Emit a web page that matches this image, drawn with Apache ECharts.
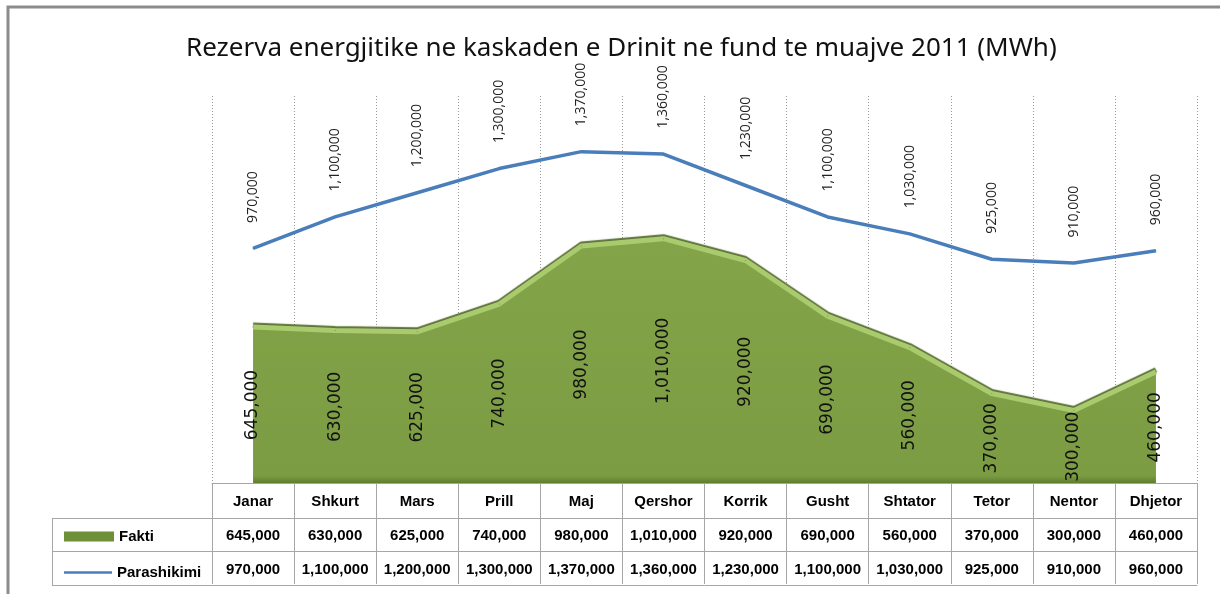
<!DOCTYPE html>
<html>
<head>
<meta charset="utf-8">
<script src="https://cdn.jsdelivr.net/npm/echarts@6/dist/echarts.min.js"></script>
<style>
  html, body { margin: 0; padding: 0; background: #fff; }
  #chart { width: 1220px; height: 594px; }
</style>
</head>
<body>
<div id="chart"></div>
<script>
var months = ['Janar', 'Shkurt', 'Mars', 'Prill', 'Maj', 'Qershor', 'Korrik', 'Gusht', 'Shtator', 'Tetor', 'Nentor', 'Dhjetor'];
var fakti = [645000, 630000, 625000, 740000, 980000, 1010000, 920000, 690000, 560000, 370000, 300000, 460000];
var parashikimi = [970000, 1100000, 1200000, 1300000, 1370000, 1360000, 1230000, 1100000, 1030000, 925000, 910000, 960000];

var narrow = "'Liberation Sans Narrow', 'Arial Narrow', 'Liberation Sans', sans-serif";
var cellLine = '#a6a6a6';

function fmt(v) {
    return v.toLocaleString('en-US');
}

var chart = echarts.init(document.getElementById('chart'));

// one category axis per table row, stacked under the plot
function tableAxis(offset, values, margin) {
    return {
        type: 'category',
        data: months,
        gridIndex: 0,
        position: 'bottom',
        offset: offset,
        boundaryGap: true,
        axisLine: { show: true, lineStyle: { color: cellLine, width: 1 } },
        axisTick: { show: !!values, interval: 0, length: 33, lineStyle: { color: cellLine } },
        axisLabel: {
            show: !!values,
            interval: 0,
            margin: margin,
            color: '#000',
            fontFamily: narrow,
            fontWeight: 'bold',
            fontSize: 15,
            formatter: function (v, i) { return values ? values[i] : v; }
        },
        splitLine: { show: false }
    };
}

var xMonths = tableAxis(0, months, 11);
xMonths.axisTick.length = 35;
xMonths.splitLine = { show: true, lineStyle: { color: '#9a9a9a', type: [1, 2], width: 1 } };

var legendText = { color: '#000', fontFamily: narrow, fontWeight: 'bold', fontSize: 15 };

var option = {
    animation: false,
    backgroundColor: '#fff',
    title: {
        text: 'Rezerva energjitike ne kaskaden e Drinit ne fund te muajve 2011 (MWh)',
        left: 181,
        top: 31,
        textStyle: { color: '#111', fontFamily: "'Noto Sans', sans-serif", fontWeight: 'normal', fontSize: 26 }
    },
    legend: [
        {
            data: [{ name: 'Fakti', icon: 'rect' }],
            left: 59, top: 524,
            itemWidth: 50, itemHeight: 10,
            textStyle: legendText
        },
        {
            data: [{ name: 'Parashikimi', icon: 'rect' }],
            left: 59, top: 560,
            itemWidth: 48, itemHeight: 2.5,
            textStyle: legendText
        }
    ],
    grid: { left: 212, right: 23, top: 96, bottom: 111 },
    xAxis: [
        xMonths,
        tableAxis(35, fakti.map(fmt), 10),
        tableAxis(68, parashikimi.map(fmt), 11),
        tableAxis(102, null, 0)
    ],
    yAxis: {
        type: 'value',
        min: 0,
        max: 1600000,
        show: false
    },
    graphic: [
        { type: 'rect', shape: { x: 8, y: 7, width: 1250, height: 640 }, style: { fill: 'none', stroke: '#8c8c8c', lineWidth: 3 }, silent: true },
        { type: 'line', shape: { x1: 52, y1: 518.5, x2: 212, y2: 518.5 }, style: { stroke: cellLine, lineWidth: 1 } },
        { type: 'line', shape: { x1: 52, y1: 551.5, x2: 212, y2: 551.5 }, style: { stroke: cellLine, lineWidth: 1 } },
        { type: 'line', shape: { x1: 52, y1: 585.5, x2: 212, y2: 585.5 }, style: { stroke: cellLine, lineWidth: 1 } },
        { type: 'line', shape: { x1: 52.5, y1: 518, x2: 52.5, y2: 586 }, style: { stroke: cellLine, lineWidth: 1 } }
    ],
    series: [
        {
            name: 'Fakti',
            type: 'line',
            data: fakti,
            xAxisIndex: 0,
            symbol: 'circle',
            symbolSize: 1,
            showSymbol: true,
            color: '#6f8f38',
            itemStyle: { color: '#6f8f38' },
            lineStyle: {
                color: '#a9cb6d',
                width: 5,
                shadowColor: 'rgba(75,100,35,0.9)',
                shadowBlur: 1,
                shadowOffsetY: -2
            },
            areaStyle: {
                opacity: 1,
                color: new echarts.graphic.LinearGradient(0, 0, 0, 1, [
                    { offset: 0, color: '#84a44a' },
                    { offset: 0.97, color: '#7c9c43' },
                    { offset: 1, color: '#5f7d2e' }
                ])
            },
            label: {
                show: true,
                rotate: 90,
                align: 'center',
                verticalAlign: 'middle',
                color: '#111',
                fontFamily: "'DejaVu Sans', sans-serif",
                fontSize: 17,
                formatter: function (p) { return fmt(p.value); }
            },
            // Excel centres these labels half way up the filled area
            labelLayout: function (p) {
                var pt = chart.convertToPixel({ gridIndex: 0 }, [p.dataIndex, fakti[p.dataIndex] / 2]);
                return { x: pt[0], y: pt[1] };
            },
            z: 2
        },
        {
            name: 'Parashikimi',
            type: 'line',
            data: parashikimi,
            xAxisIndex: 0,
            symbol: 'circle',
            symbolSize: 1,
            showSymbol: true,
            color: '#4a7ebb',
            lineStyle: { color: '#4a7ebb', width: 3.5 },
            label: {
                show: true,
                position: 'top',
                distance: 25,
                rotate: 90,
                align: 'left',
                verticalAlign: 'middle',
                color: '#222',
                fontFamily: "'Open Sans', sans-serif",
                fontSize: 14,
                formatter: function (p) { return fmt(p.value); }
            },
            z: 3
        }
    ]
};
chart.setOption(option);
</script>
</body>
</html>
